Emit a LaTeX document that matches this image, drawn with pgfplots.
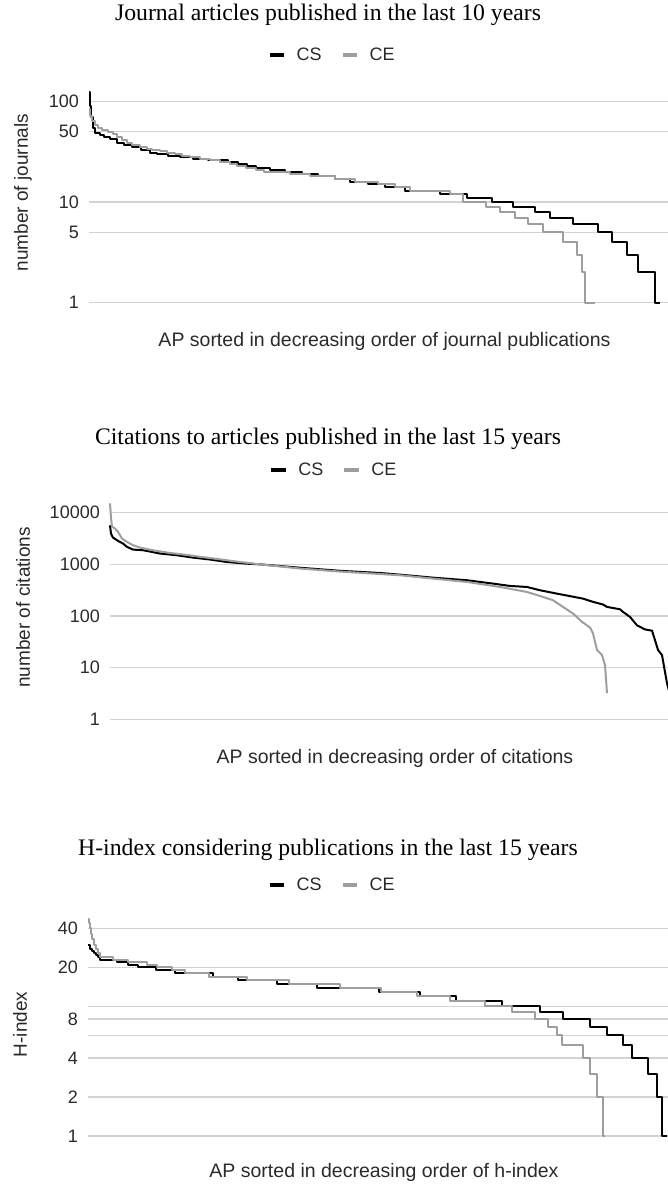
\documentclass[border=0pt]{standalone}
\usepackage{fontspec}
\setmainfont{Liberation Sans}
\newfontfamily\serifT{Liberation Serif}
\usepackage{pgfplots}
\pgfplotsset{compat=1.18}
\definecolor{csc}{HTML}{000000}
\definecolor{cec}{HTML}{9E9E9E}
\definecolor{gridc}{HTML}{D3D3D3}
\definecolor{txt}{HTML}{2A2A2A}
\pgfplotsset{
  every axis/.append style={
    scale only axis,
    clip=false,
    axis line style={draw=none},
    xtick=\empty,
    major tick length=0pt,
    minor tick length=0pt,
    yminorticks=false,
    ymajorgrids,
    grid style={gridc, line width=1.2pt},
    yticklabel style={font=\fontsize{18}{18}\selectfont, text=txt, inner sep=0pt, anchor=east, xshift=-10pt},
    ylabel style={font=\fontsize{19}{19}\selectfont, text=txt, anchor=center},
    xlabel style={font=\fontsize{19.5}{19.5}\selectfont, text=txt, at={(axis description cs:0.5,0)}, anchor=center},
    title style={font=\serifT\fontsize{23.7}{23.7}\selectfont, text=black, anchor=center, yshift=0pt},
    legend columns=-1,
    legend style={draw=none, fill=none, font=\fontsize{18}{18}\selectfont, text=txt, anchor=center,
      nodes={inner sep=0pt},
      /tikz/every odd column/.append style={column sep=10.5pt},
      /tikz/every even column/.append style={column sep=19pt}},
    every axis plot/.append style={line join=round},
  },
}
\begin{document}
\begin{tikzpicture}
\useasboundingbox (0pt,0pt) rectangle (667pt,-1185pt);
% ---------------- Panel 1 ----------------
\begin{axis}[ymode=log, at={(89pt,-302.7pt)}, anchor=south west, width=591pt, height=212.7pt,
  xmin=89, xmax=680, ymin=1, ymax=130,
  ytick={1,5,10,50,100}, yticklabels={1,5,10,50,100},
  legend image code/.code={\draw[line width=4pt] (0pt,0pt) -- (14.5pt,0pt);},
  title={Journal articles published in the last 10 years},
  title style={at={(axis description cs:0.4044,1.324)}},
  legend style={at={(axis description cs:0.4095,1.1646)}},
  ylabel={number of journals},
  ylabel style={at={(axis description cs:-0.1117,0.5176)}},
  xlabel={AP sorted in decreasing order of journal publications},
  xlabel style={yshift=-39pt}]
\addplot[csc, line width=2pt, const plot] coordinates {(89,125) (90,90) (91,70) (93,55) (95,49) (100,46) (104,44) (110,42) (117,39) (124,37) (132,35) (141,33) (150,31) (157,30) (168,29) (180,28) (193,27) (208,26) (228,25) (238,24) (247,23) (256,22) (270,21) (285,20) (302,19) (318,18) (335,17) (350,16) (368,15) (385,14) (405,13) (440,12) (467,11) (492,10) (513,9) (535,8) (550,7) (573,6) (598,5) (612,4) (627,3) (638,2) (655,1) (660,1)};
\addplot[cec, line width=2pt, const plot] coordinates {(89,85) (90,72) (92,64) (95,58) (98,55) (102,52) (108,50) (113,47) (117,44) (122,41) (127,39) (132,37) (140,35) (147,34) (152,33) (160,32) (167,31) (175,30) (182,29) (190,28) (200,27) (210,26) (220,25) (230,24) (237,23) (246,22) (256,21) (264,20) (290,19) (310,18) (335,17) (355,16) (378,15) (395,14) (410,13) (450,12) (463,10) (486,9) (500,8) (515,7) (528,6) (543,5) (563,4) (577,3) (582,2) (585,1) (595,1)};
\addlegendentry{CS}
\addlegendentry{CE}
\end{axis}
% ---------------- Panel 2 ----------------
\begin{axis}[ymode=log, at={(110pt,-719.3pt)}, anchor=south west, width=570pt, height=218.5pt,
  xmin=110, xmax=680, ymin=1, ymax=17000,
  ytick={1,10,100,1000,10000}, yticklabels={1,10,100,1000,10000},
  legend image code/.code={\draw[line width=4pt] (0pt,0pt) -- (14.5pt,0pt);},
  title={Citations to articles published in the last 15 years},
  title style={at={(axis description cs:0.3825,1.255)}},
  legend style={at={(axis description cs:0.3912,1.1410)}},
  ylabel={number of citations},
  ylabel style={at={(axis description cs:-0.1526,0.5117)}},
  xlabel={AP sorted in decreasing order of citations},
  xlabel style={yshift=-38.7pt}]
\addplot[csc, line width=2pt] coordinates {(110,5700) (111,3950) (113,3300) (118,2850) (123,2530) (127,2180) (133,1930) (143,1880) (160,1620) (177,1500) (193,1350) (210,1240) (227,1110) (247,1030) (260,1000) (300,860) (340,750) (380,680) (400,632) (433,553) (467,492) (493,424) (510,382) (527,365) (540,315) (560,264) (583,217) (593,188) (603,167) (607,150) (620,135) (623,120) (630,96) (637,66) (645,55) (652,52) (655,34) (658,22) (662,17.5) (667,5) (670,3)};
\addplot[cec, line width=2pt] coordinates {(110,15200) (111,8000) (112,5340) (115,4950) (118,4260) (122,3160) (127,2720) (133,2350) (140,2110) (153,1870) (170,1660) (187,1520) (200,1400) (220,1250) (240,1110) (260,1000) (300,830) (340,725) (380,650) (400,614) (433,530) (467,456) (500,365) (527,292) (543,234) (553,202) (563,150) (573,112) (582,77) (590,60) (593,46) (597,22) (602,17.5) (605,11.2) (607,3.2)};
\addlegendentry{CS}
\addlegendentry{CE}
\end{axis}
% ---------------- Panel 3 ----------------
\begin{axis}[ymode=log, at={(88pt,-1136pt)}, anchor=south west, width=592pt, height=220.1pt,
  xmin=88, xmax=680, ymin=1, ymax=50,
  ytick={1,2,4,8,20,40}, yticklabels={1,2,4,8,20,40},
  extra y ticks={6,10}, extra y tick labels={},
  extra y tick style={ymajorgrids, grid style={gridc, line width=1.2pt}},
  legend image code/.code={\draw[line width=4pt] (0pt,0pt) -- (14.5pt,0pt);},
  title={H-index considering publications in the last 15 years},
  title style={at={(axis description cs:0.4054,1.273)}},
  legend style={at={(axis description cs:0.4105,1.1404)}},
  ylabel={H-index},
  ylabel style={at={(axis description cs:-0.1149,0.5066)}},
  xlabel={AP sorted in decreasing order of h-index},
  xlabel style={yshift=-36pt}]
\addplot[csc, line width=2pt, const plot] coordinates {(88,30) (90,28) (92,27) (94,26) (96,25) (98,24) (100,23) (117,22) (128,21) (138,20) (156,19) (175,18) (213,17) (238,16) (277,15) (317,14) (379,13) (420,12) (456,11) (502,10) (540,9) (563,8) (590,7) (607,6) (623,5) (632,4) (648,3) (657,2) (662,1) (667,1)};
\addplot[cec, line width=2pt, const plot] coordinates {(88,47) (89,44) (90,40) (91,36) (92,33) (94,30) (96,28) (98,26) (100,24) (113,23) (128,22) (147,21) (157,20) (172,19) (185,18) (209,17) (247,16) (289,15) (340,14) (381,13) (417,12) (450,11) (485,10) (512,9) (535,8) (548,7) (557,6) (562,5) (583,4) (590,3) (597,2) (603,1) (605,1)};
\addlegendentry{CS}
\addlegendentry{CE}
\end{axis}
\end{tikzpicture}
\end{document}
